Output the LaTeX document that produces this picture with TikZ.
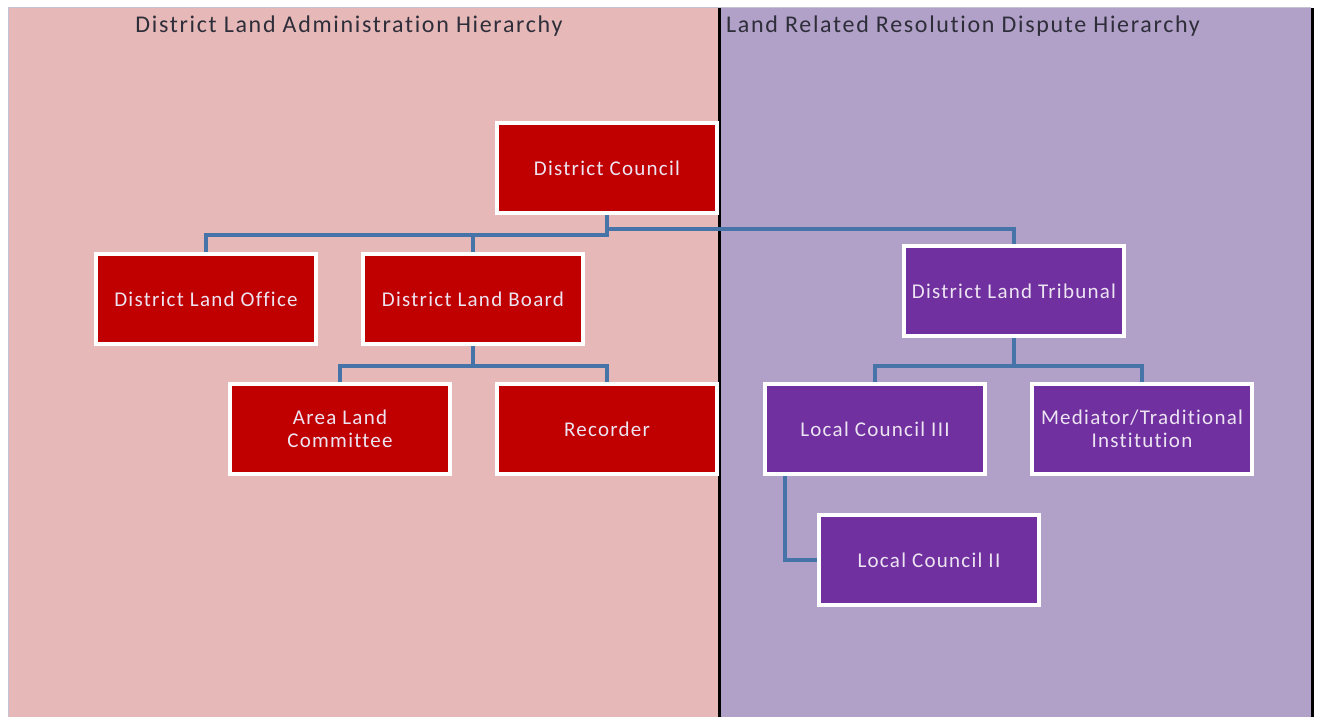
\documentclass[tikz,border=0pt]{standalone}
\usepackage{fontspec}
\setmainfont{Carlito}
\newfontfamily\boxfont[LetterSpace=6,Ligatures=NoCommon]{Carlito}
\newfontfamily\titlefont[LetterSpace=7,Ligatures=NoCommon]{Carlito}
\definecolor{pinkbg}{HTML}{E6B8B7}
\definecolor{purbg}{HTML}{B1A0C7}
\definecolor{redbox}{HTML}{C00000}
\definecolor{purbox}{HTML}{7030A0}
\definecolor{connblue}{HTML}{4673A8}
\definecolor{boxtext}{HTML}{EDE4F2}
\definecolor{titletext}{HTML}{2E2E3A}
\pgfdeclarelayer{bg}
\pgfdeclarelayer{links}
\pgfsetlayers{bg,links,main}
\begin{document}
\begin{tikzpicture}[x=1pt,y=-1pt,
  orgbox/.style={rectangle, draw=white, line width=4pt, inner sep=0pt,
    minimum width=220pt, minimum height=90pt, align=center,
    text=boxtext, font=\boxfont\fontsize{21}{23}\selectfont},
  redorg/.style={orgbox, fill=redbox},
  purorg/.style={orgbox, fill=purbox},
  conn/.style={draw=connblue, line width=4pt},
  paneltitle/.style={text=titletext, font=\titlefont\fontsize{24}{26}\selectfont, inner sep=0pt}]
\useasboundingbox (0,0) rectangle (1319,717);
\begin{pgfonlayer}{bg}
  \fill[white] (0,0) rectangle (1319,717);
  \fill[pinkbg] (9,8) rectangle (719,717);
  \fill[purbg] (719,8) rectangle (1311,717);
  \draw[color=black!10!blue!20!gray!40, line width=1.5pt] (8.5,717) -- (8.5,7.5) -- (1311,7.5);
  \draw[black, line width=3pt] (719,8) -- (719,717);
  \draw[black, line width=3pt] (1312.5,8) -- (1312.5,717);
\end{pgfonlayer}
\node[paneltitle] (t1) at (349,26) {District Land Administration Hierarchy};
\node[paneltitle, anchor=west] (t2) at (726,26) {Land Related Resolution Dispute Hierarchy};

\node[redorg] (dc) at (607,168) {District Council};
\node[redorg] (dlo) at (206,299) {District Land Office};
\node[redorg] (dlb) at (473,299) {District Land Board};
\node[redorg] (alc) at (340,429) {Area Land\\Committee};
\node[redorg] (rec) at (607,429) {Recorder};
\node[purorg] (dlt) at (1014,291) {District Land Tribunal};
\node[purorg] (lc3) at (875,429) {Local Council III};
\node[purorg] (med) at (1142,429) {Mediator/Traditional\\Institution};
\node[purorg] (lc2) at (929,560) {Local Council II};
\coordinate (lc3k) at ([xshift=-90pt]lc3.south);

\begin{pgfonlayer}{links}
  \draw[conn] (dc.south) -- ++(0,20) -| (dlo.north);
  \draw[conn] (dc.south) ++(0,20) -| (dlb.north);
  \draw[conn] (dc.south) ++(0,14) -| (dlt.north);
  \draw[conn] (dlb.south) -- ++(0,20) -| (alc.north);
  \draw[conn] (dlb.south) ++(0,20) -| (rec.north);
  \draw[conn] (dlt.south) -- ++(0,28) -| (lc3.north);
  \draw[conn] (dlt.south) ++(0,28) -| (med.north);
  \draw[conn] (lc3k) |- (lc2.west);
\end{pgfonlayer}
\end{tikzpicture}
\end{document}
